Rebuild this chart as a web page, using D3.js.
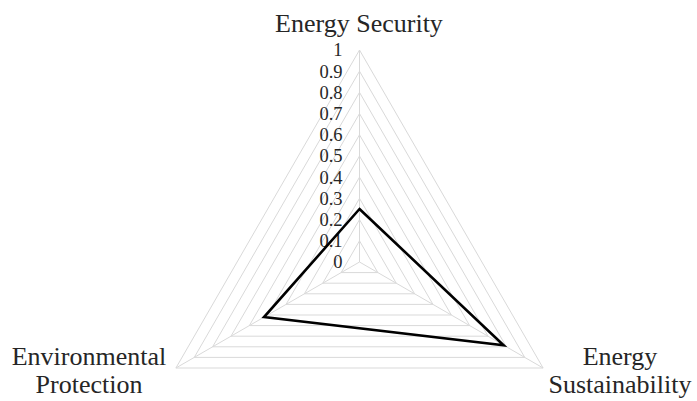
<!DOCTYPE html>
<html>
<head>
<meta charset="utf-8">
<script src="https://cdn.jsdelivr.net/npm/d3@7"></script>
<style>
  body { margin: 0; background: #fff; }
  text { font-family: "Liberation Serif", "DejaVu Serif", serif; fill: #262626; }
</style>
</head>
<body>
<svg id="chart" width="697" height="401"></svg>
<script>
const AXES = [['Energy Security'], ['Energy', 'Sustainability'], ['Environmental', 'Protection']];
const VALUES = [0.25, 0.785, 0.52];
const TICKS = [0, 0.1, 0.2, 0.3, 0.4, 0.5, 0.6, 0.7, 0.8, 0.9, 1];

const svg = d3.select('#chart');
const cx = 359.5, cy = 262, R = 212;
const r = d3.scaleLinear().domain([0, 1]).range([0, R]);

// angle 0 at top, clockwise
const angle = i => -Math.PI / 2 + i * 2 * Math.PI / AXES.length;
const pt = (i, v) => [cx + r(v) * Math.cos(angle(i)), cy + r(v) * Math.sin(angle(i))];

const grid = svg.append('g');
TICKS.filter(t => t > 0).forEach(t => {
  grid.append('polygon')
    .attr('points', AXES.map((a, i) => pt(i, t).join(',')).join(' '))
    .attr('fill', 'none')
    .attr('stroke', '#d9d9d9')
    .attr('stroke-width', 1);
});
AXES.forEach((a, i) => {
  const [x, y] = pt(i, 1);
  grid.append('line')
    .attr('x1', cx).attr('y1', cy).attr('x2', x).attr('y2', y)
    .attr('stroke', '#d9d9d9').attr('stroke-width', 1);
});

// tick labels along the vertical axis
svg.append('g').selectAll('text').data(TICKS).enter().append('text')
  .attr('x', cx - 17)
  .attr('y', d => cy - r(d))
  .attr('dy', '0.35em')
  .attr('text-anchor', 'end')
  .attr('font-size', 18.5)
  .text(d => d3.format('~g')(d));

// data line
svg.append('polygon')
  .attr('points', VALUES.map((v, i) => pt(i, v).join(',')).join(' '))
  .attr('fill', 'none')
  .attr('stroke', '#000')
  .attr('stroke-width', 2.6)
  .attr('stroke-linejoin', 'miter');

// axis labels
const labelPos = [[359, 32], [620, 365], [89, 365]];
AXES.forEach((lines, i) => {
  const t = svg.append('text')
    .attr('x', labelPos[i][0]).attr('y', labelPos[i][1])
    .attr('text-anchor', 'middle')
    .attr('font-size', 26);
  lines.forEach((l, j) => {
    t.append('tspan').attr('x', labelPos[i][0]).attr('dy', j === 0 ? 0 : 28).text(l);
  });
});
</script>
</body>
</html>
